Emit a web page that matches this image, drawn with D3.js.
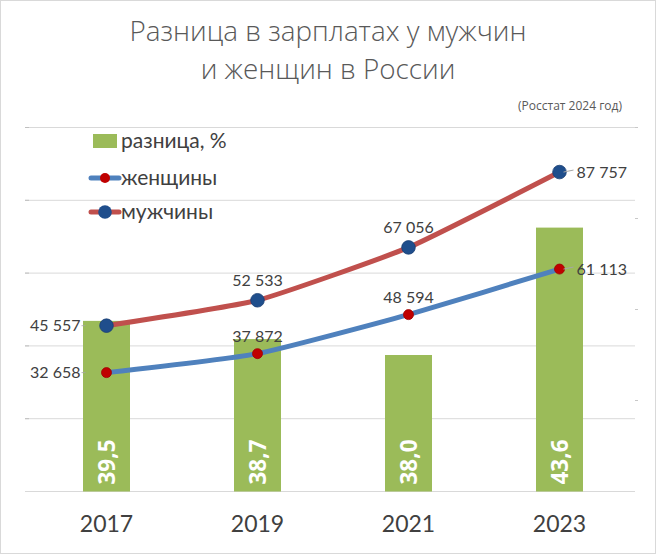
<!DOCTYPE html>
<html><head><meta charset="utf-8">
<script src="https://cdn.jsdelivr.net/npm/d3@7"></script>
<style>
html,body{margin:0;padding:0;background:#fff;}
svg{display:block;}
</style></head>
<body>
<script>
const years = ["2017","2019","2021","2023"];
const gapPct = [39.5, 38.7, 38.0, 43.6];
const gapLabels = ["39,5","38,7","38,0","43,6"];
const women = [32658, 37872, 48594, 61113];
const men = [45557, 52533, 67056, 87757];
const salaryTicks = [0, 20000, 40000, 60000, 80000, 100000];
const pctTicks = [32, 36, 40, 44, 48];
const titleLines = ["Разница в зарплатах у мужчин", "и женщин в России"];
const subtitle = "(Росстат 2024 год)";
const legendNames = ["разница, %", "женщины", "мужчины"];

const W = 656, H = 554;
const svg = d3.select("body").append("svg").attr("width", W).attr("height", H);
svg.append("rect").attr("x",0.5).attr("y",0.5).attr("width",W-1).attr("height",H-1)
  .attr("fill","#fff").attr("stroke","#d9d9d9");

const pLeft = 31, pRight = 635, pTop = 127.5, pBottom = 491.5;
const x = d3.scaleBand().domain(years).range([pLeft, pRight]).paddingInner(0.69).paddingOuter(0.345);
const yS = d3.scaleLinear().domain([0, 100000]).range([pBottom, pTop]);
const yP = d3.scaleLinear().domain([32, 48]).range([pBottom, pTop]);
const fmt = v => d3.format(",")(v).replace(/,/g, " ");
const txt = "#404040";
const font = "Lato, 'Open Sans', sans-serif";

// gridlines
svg.append("g").selectAll("line").data(salaryTicks).join("line")
  .attr("x1", 25).attr("x2", pRight).attr("y1", d => yS(d)).attr("y2", d => yS(d))
  .attr("stroke", "#d9d9d9").attr("stroke-width", 1);
svg.append("g").selectAll("line").data(salaryTicks.slice(1)).join("line")
  .attr("x1", 25).attr("x2", 29).attr("y1", d => yS(d)).attr("y2", d => yS(d))
  .attr("stroke", "#bfbfbf");
svg.append("g").selectAll("line").data(pctTicks.slice(1)).join("line")
  .attr("x1", pRight).attr("x2", pRight+3).attr("y1", d => yP(d)).attr("y2", d => yP(d))
  .attr("stroke", "#c8c8c8");

// bars
const bw = 47;
const cx = d => x(d) + x.bandwidth()/2;
svg.append("g").selectAll("rect").data(years).join("rect")
  .attr("x", d => cx(d) - bw/2).attr("width", bw)
  .attr("y", (d,i) => yP(gapPct[i])).attr("height", (d,i) => pBottom - yP(gapPct[i]))
  .attr("fill", "#9bbb59");
svg.append("g").selectAll("text").data(years).join("text")
  .attr("transform", d => `translate(${cx(d)+8},462) rotate(-90)`)
  .attr("text-anchor","middle").attr("font-family", "'Open Sans', sans-serif")
  .attr("font-weight","bold").attr("font-size", 22.5).attr("fill","#fff")
  .text((d,i) => gapLabels[i]);

// lines
const line = d3.line().x((d,i) => cx(years[i])).y(d => yS(d)).curve(d3.curveCardinal.tension(0.55));
svg.append("path").datum(women).attr("d", line).attr("fill","none")
  .attr("stroke","#4f81bd").attr("stroke-width",5).attr("stroke-linecap","round");
svg.append("path").datum(men).attr("d", line).attr("fill","none")
  .attr("stroke","#c0504d").attr("stroke-width",5).attr("stroke-linecap","round");

svg.append("g").selectAll("circle").data(women).join("circle")
  .attr("cx",(d,i)=>cx(years[i])).attr("cy", d=>yS(d)).attr("r",5)
  .attr("fill","#c00000").attr("stroke","#a00000").attr("stroke-width",0.8);
svg.append("g").selectAll("circle").data(men).join("circle")
  .attr("cx",(d,i)=>cx(years[i])).attr("cy", d=>yS(d)).attr("r",6.8)
  .attr("fill","#1f4e8c").attr("stroke","#1a3f73").attr("stroke-width",0.8);

// data labels: l = left, a = above, r = right
const womenPos = ["l","a","a","r"];
const menPos = ["l","a","a","r"];
function labels(vals, pos, gap) {
  const g = svg.append("g").attr("font-family", font).attr("font-size", 16).attr("fill", txt);
  vals.forEach((v,i) => {
    const px = cx(years[i]), py = yS(v);
    let tx, ty, anchor;
    if (pos[i] === "l") { tx = px - 26; ty = py + 5; anchor = "end";
      g.append("line").attr("x1", px-25).attr("x2", px-21).attr("y1", py).attr("y2", py).attr("stroke","#a6a6a6").attr("stroke-width",0.8);
    } else if (pos[i] === "r") { tx = px + 17; ty = py + 5.5; anchor = "start";
      g.append("line").attr("x1", px+4).attr("x2", px+14).attr("y1", py).attr("y2", py-2).attr("stroke","#a6a6a6").attr("stroke-width",1);
    } else { tx = px; ty = py - gap; anchor = "middle"; }
    g.append("text").attr("x", tx).attr("y", ty).attr("text-anchor", anchor).text(fmt(v));
  });
}
labels(women, womenPos, 12);
labels(men, menPos, 14);

// x axis labels
svg.append("g").selectAll("text").data(years).join("text")
  .attr("x", d => cx(d)).attr("y", 532).attr("text-anchor","middle")
  .attr("font-family", font).attr("font-size", 23).attr("fill", txt).text(d => d);

// title
svg.append("g").selectAll("text").data(titleLines).join("text")
  .attr("x", 328).attr("y", (d,i) => 41 + i*37.5).attr("text-anchor","middle")
  .attr("font-family","'Open Sans', sans-serif").attr("font-weight", 300)
  .attr("font-size", 27.8).attr("fill","#595959")
  .text(d => d);
svg.append("text").attr("x", 622).attr("y", 110).attr("text-anchor","end")
  .attr("font-family","'Open Sans', sans-serif").attr("font-size", 12).attr("fill","#595959")
  .text(subtitle);

// legend
const lg = svg.append("g").attr("font-family", font).attr("font-size", 21).attr("fill", txt);
lg.append("rect").attr("x", 93).attr("y", 134).attr("width", 24).attr("height", 14).attr("fill","#9bbb59");
lg.append("text").attr("x", 121).attr("y", 148).text(legendNames[0]);
lg.append("line").attr("x1", 91).attr("x2", 119).attr("y1", 178).attr("y2", 178).attr("stroke","#4f81bd").attr("stroke-width",5).attr("stroke-linecap","round");
lg.append("circle").attr("cx", 105).attr("cy", 178).attr("r", 5).attr("fill","#c00000");
lg.append("text").attr("x", 121).attr("y", 185).text(legendNames[1]);
lg.append("line").attr("x1", 91).attr("x2", 119).attr("y1", 212).attr("y2", 212).attr("stroke","#c0504d").attr("stroke-width",5).attr("stroke-linecap","round");
lg.append("circle").attr("cx", 105).attr("cy", 212).attr("r", 6.8).attr("fill","#1f4e8c");
lg.append("text").attr("x", 121).attr("y", 219).text(legendNames[2]);
</script>
</body></html>
